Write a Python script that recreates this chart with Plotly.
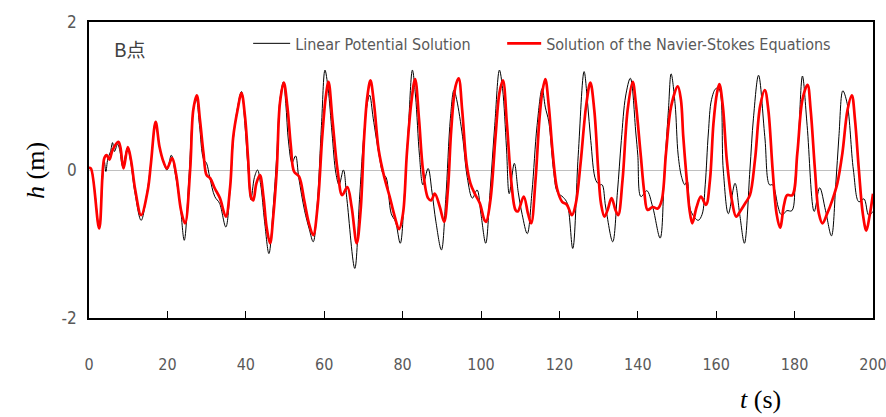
import plotly.graph_objects as go

# Linear potential solution (black)
lin_t = [0.0, 0.5, 1.5, 2.6, 3.5, 3.9, 4.3, 4.8, 5.5, 6.0, 6.5, 7.3, 7.8, 8.6, 9.8, 10.6, 11.7, 13.3, 14.8, 15.8,
         17.0, 18.0, 19.0, 19.9, 21.0, 22.0, 23.3, 24.3, 25.5, 26.6, 27.4, 28.2, 29.2, 30.0, 30.8, 32.1, 33.3, 34.9,
         36.0, 36.8, 37.9, 38.9, 39.8, 40.6, 41.3, 42.2, 43.0, 43.8, 44.8, 45.9, 47.0, 47.9, 48.7, 49.6, 50.2, 50.9,
         51.8, 52.7, 53.5, 55.0, 56.2, 57.2, 58.3, 59.3, 60.2, 61.0, 62.0, 63.0, 63.8, 64.9, 65.8, 67.8, 69.0, 70.0,
         71.0, 71.6, 72.5, 74.0, 75.0, 75.8, 77.1, 78.2, 79.4, 80.5, 81.5, 82.5, 83.3, 84.3, 85.2, 86.5, 87.5, 88.5,
         89.9, 91.0, 92.2, 93.1, 93.8, 95.3, 96.5, 97.8, 99.0, 100.0, 101.2, 102.3, 103.5, 104.7, 105.5, 106.5, 107.2,
         108.5, 109.5, 110.5, 111.8, 113.0, 114.3, 115.6, 116.4, 117.3, 118.5, 119.5, 121.0, 122.0, 123.4, 124.8,
         126.3, 127.2, 128.0, 129.3, 130.3, 130.9, 131.8, 133.6, 134.8, 135.8, 136.9, 138.1, 139.5, 140.0, 140.8,
         142.3, 143.8, 145.7, 146.8, 147.8, 148.5, 149.5, 150.3, 151.2, 152.0, 152.6, 153.5, 155.4, 156.4, 157.2,
         158.0, 158.8, 159.9, 160.7, 161.8, 163.1, 164.8, 166.0, 167.2, 168.6, 169.5, 170.8, 172.4, 173.6, 174.4,
         175.8, 176.5, 177.1, 178.0, 179.3, 180.2, 181.0, 182.0, 183.2, 185.0, 186.4, 187.9, 189.4, 190.5, 191.3,
         192.3, 193.4, 195.0, 196.4, 197.7, 198.9, 200.0]
lin_h = [0.03, 0.02, -0.30, -0.79, -0.10, 0.12, -0.02, 0.15, 0.25, 0.37, 0.25, 0.35, 0.28, 0.05, 0.30, 0.12, -0.30, -0.68, -0.30, 0.10,
         0.63, 0.30, 0.10, 0.00, 0.20, -0.05, -0.50, -0.95, -0.10, 0.80, 0.95, 0.60, 0.15, 0.09, -0.10, -0.36, -0.45, -0.77,
         -0.25, 0.40, 0.85, 1.06, 0.60, 0.00, -0.40, -0.10, 0.00, -0.20, -0.70, -1.13, -0.50, 0.20, 0.95, 1.19, 0.90, 0.38,
         0.10, 0.19, -0.10, -0.55, -0.80, -0.97, -0.40, 0.60, 1.35, 1.10, 0.50, -0.05, -0.20, 0.00, -0.40, -1.33, -0.40, 0.40,
         0.90, 1.01, 0.70, 0.20, -0.05, -0.10, -0.59, -0.70, -0.99, -0.30, 0.60, 1.35, 1.00, 0.20, -0.20, 0.02, -0.30, -0.70,
         -1.08, -0.40, 0.70, 1.08, 0.95, 0.45, -0.10, -0.38, -0.27, -0.60, -0.99, -0.30, 0.60, 1.35, 1.10, 0.30, -0.32,
         0.09, -0.30, -0.60, -0.86, -0.30, 0.60, 1.10, 0.85, 0.65, 0.00, -0.30, -0.37, -0.45, -1.06, 0.20,
         1.33, 0.90, 0.40, -0.14, -0.20, -0.20, -0.50, -0.97, -0.30, 0.40, 1.00, 1.24, 0.50, 0.20, -0.36,
         -0.28, -0.50, -0.92, 0.00, 0.80, 1.30, 0.90, 0.20, -0.10, -0.20, -0.15, -0.55, -0.68, -0.60, -0.20,
         0.50, 0.95, 1.10, 1.10, 0.00, -0.59, -0.18, -0.60, -0.99, 0.00, 0.70, 1.28, 0.45, -0.20, -0.20,
         -0.50, -0.60, -0.60, -0.55, -0.55, -0.10, 0.45, 1.27, 0.60, -0.56, -0.24, -0.55, -0.89, -0.20, 0.45,
         1.07, 0.90, 0.00, -0.43, -0.39, -0.61, -0.56]

# Navier-Stokes solution (red)
ns_t = [0.0, 0.5, 2.6, 3.9, 4.5, 5.2, 6.0, 7.5, 8.0, 8.8, 9.9, 10.7, 11.8, 13.3, 15.0, 15.8, 17.0, 18.0, 19.0, 19.9,
        21.2, 22.2, 23.5, 24.5, 25.8, 26.6, 27.5, 28.3, 29.2, 30.0, 30.9, 32.1, 33.4, 34.9, 36.0, 36.8, 37.9, 38.9,
        39.8, 40.6, 41.3, 41.9, 42.7, 43.6, 44.5, 45.3, 46.2, 47.0, 47.9, 48.7, 49.7, 50.6, 51.5, 52.3, 53.6, 54.9,
        56.1, 57.2, 58.3, 59.5, 60.4, 61.1, 62.1, 63.4, 64.6, 65.9, 67.0, 68.3, 69.3, 70.2, 71.0, 71.8, 72.7, 73.9,
        75.3, 76.7, 78.0, 79.1, 80.1, 81.1, 82.2, 83.2, 84.2, 85.2, 86.5, 87.3, 88.2, 89.5, 90.6, 91.6, 92.4, 93.5,
        94.3, 95.2, 96.3, 97.3, 98.4, 99.7, 100.9, 101.3, 102.4, 103.7, 104.7, 105.6, 106.6, 107.7, 108.8, 109.4,
        110.9, 112.0, 112.8, 113.9, 114.9, 115.6, 116.4, 117.3, 118.3, 119.4, 120.7, 121.9, 123.2, 124.2, 125.4,
        126.8, 127.9, 128.9, 129.9, 130.6, 131.5, 132.3, 133.3, 134.3, 135.0, 136.1, 137.4, 138.7, 139.5, 140.7,
        141.7, 142.5, 143.8, 145.1, 146.1, 147.2, 148.5, 150.2, 151.0, 151.6, 152.5, 153.2, 153.9, 155.0, 156.1,
        157.4, 158.4, 159.3, 160.2, 160.8, 161.7, 162.7, 164.0, 165.1, 166.1, 167.4, 168.6, 169.9, 171.2, 172.4,
        173.3, 174.4, 175.4, 176.3, 177.3, 178.1, 179.4, 180.7, 182.0, 183.3, 184.1, 185.2, 186.2, 187.1, 188.3,
        189.6, 190.9, 192.2, 193.5, 194.6, 195.4, 196.4, 197.4, 198.3, 199.1, 200.0]
ns_h = [0.03, 0.02, -0.79, 0.16, 0.20, 0.14, 0.27, 0.38, 0.31, 0.02, 0.31, 0.14, -0.27, -0.61, -0.27, 0.09, 0.65, 0.31, 0.11, 0.02,
        0.16, -0.05, -0.55, -0.72, 0.00, 0.81, 1.01, 0.68, 0.23, -0.07, -0.11, -0.25, -0.38, -0.63, -0.23, 0.45, 0.81, 1.04,
        0.72, 0.14, -0.36, -0.41, -0.18, -0.07, -0.36, -0.77, -0.99, -0.63, 0.00, 0.90, 1.18, 0.86, 0.32, -0.02, -0.09, -0.41,
        -0.72, -0.88, -0.50, 0.45, 0.99, 1.19, 0.68, 0.00, -0.34, -0.23, -0.50, -0.99, -0.54, 0.45, 0.99, 1.21, 0.90, 0.27,
        -0.09, -0.36, -0.63, -0.80, -0.59, 0.23, 0.90, 1.23, 0.68, 0.00, -0.38, -0.41, -0.32, -0.50, -0.70, -0.23, 0.54, 1.13,
        1.24, 0.81, 0.09, -0.18, -0.32, -0.45, -0.68, -0.70, -0.41, 0.45, 1.04, 1.21, 0.63, -0.14, -0.54, -0.56,
        -0.36, -0.59, -0.72, -0.14, 0.68, 1.04, 1.23, 0.86, 0.23, -0.25, -0.43, -0.47, -0.61, -0.45, 0.09,
        0.86, 1.18, 0.81, 0.00, -0.45, -0.63, -0.54, -0.38, -0.54, -0.61, -0.14, 0.81, 1.19, 0.90, 0.23,
        -0.32, -0.54, -0.50, -0.52, -0.41, 0.23, 0.86, 1.13, 0.95, 0.45, -0.14, -0.54, -0.72, -0.50, -0.36,
        -0.47, -0.14, 0.63, 1.04, 1.16, 0.86, 0.14, -0.41, -0.63, -0.56, -0.45, -0.34, 0.14, 0.86, 1.08,
        0.81, 0.00, -0.59, -0.78, -0.47, -0.34, -0.34, 0.23, 0.95, 1.15, 0.81, 0.00, -0.59, -0.72, -0.59,
        -0.41, -0.18, 0.23, 0.81, 1.01, 0.68, 0.00, -0.59, -0.82, -0.63, -0.32]

x_ticks = [0, 20, 40, 60, 80, 100, 120, 140, 160, 180, 200]
y_ticks = [-2, 0, 2]

narrow = "DejaVu Sans Condensed, Liberation Sans Narrow, sans-serif"
serif = "Liberation Serif, Times New Roman, serif"
grey = "#595959"

fig = go.Figure()
fig.add_trace(go.Scatter(x=lin_t, y=lin_h, mode="lines", name="Linear Potential Solution",
                         line=dict(color="black", width=1), line_shape="spline", legend="legend"))
fig.add_trace(go.Scatter(x=ns_t, y=ns_h, mode="lines", name="Solution of the Navier-Stokes Equations",
                         line=dict(color="#ff0000", width=2.7), line_shape="spline", legend="legend2"))

legend_common = dict(orientation="h", y=0.985, xanchor="left", yanchor="top",
                     font=dict(family=narrow, size=16, color=grey), bgcolor="rgba(0,0,0,0)")

fig.update_layout(
    width=886, height=417,
    margin=dict(l=89, r=13, t=22, b=99, autoexpand=False),
    paper_bgcolor="white", plot_bgcolor="white",
    showlegend=True,
    legend=dict(x=0.203, itemwidth=37, **legend_common),
    legend2=dict(x=0.527, itemwidth=34, **legend_common),
    xaxis=dict(range=[0, 200], tickvals=x_ticks, ticktext=[str(v) for v in x_ticks],
               ticks="inside", ticklen=7, tickcolor="black", tickwidth=1,
               showline=True, linecolor="black", linewidth=1.5, mirror=True,
               showgrid=False, zeroline=False, ticklabelstandoff=31, automargin=False,
               ticklabeloverflow="allow",
               tickfont=dict(family=narrow, size=16, color=grey)),
    yaxis=dict(range=[-2, 2], tickvals=y_ticks, ticktext=[str(v) for v in y_ticks],
               ticks="", showline=True, linecolor="black", linewidth=1.5, mirror=True,
               showgrid=False, zeroline=True, zerolinecolor="#c0c0c0", zerolinewidth=1,
               ticklabelstandoff=7, automargin=False, ticklabeloverflow="allow",
               tickfont=dict(family=narrow, size=17, color=grey)),
    annotations=[
        dict(text="<i>h</i> (m)", xref="paper", yref="paper", x=-0.069, y=0.5, textangle=-90,
             showarrow=False, font=dict(family=serif, size=26, color="black"),
             xanchor="center", yanchor="middle"),
        dict(text="<i>t</i> (s)", xref="paper", yref="paper", x=0.856, y=-0.277,
             showarrow=False, font=dict(family=serif, size=26, color="black"),
             xanchor="center", yanchor="middle"),
        dict(text="B点", xref="paper", yref="paper", x=0.029, y=0.912,
             showarrow=False, font=dict(family="Noto Sans CJK JP", size=19, color="#404040"),
             xanchor="left", yanchor="middle"),
    ],
)

# remove the browser's default 8px body margin so the figure fills the window exactly
fig.write_html("out.html", config={"displayModeBar": False},
               post_script="document.body.style.margin='0';document.body.style.overflow='hidden';")
